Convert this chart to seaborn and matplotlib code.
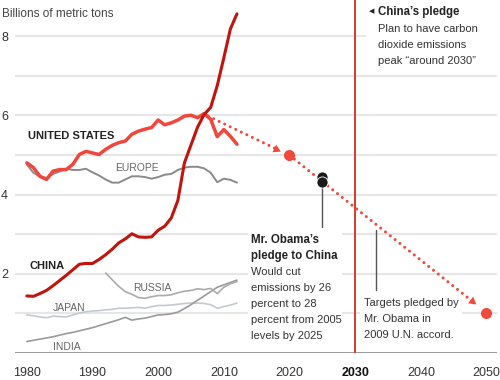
import numpy as np
import pandas as pd
import seaborn as sns
import matplotlib
matplotlib.use("Agg")
import matplotlib.pyplot as plt
from matplotlib.patches import Rectangle

# ---------------- data ----------------
years = list(range(1980, 2013))
us = [4.80, 4.68, 4.46, 4.38, 4.59, 4.63, 4.63, 4.76, 5.01, 5.09, 5.05,
      5.01, 5.14, 5.24, 5.31, 5.35, 5.52, 5.60, 5.65, 5.69, 5.88, 5.76,
      5.81, 5.88, 5.98, 6.00, 5.94, 6.04, 5.90, 5.46, 5.64, 5.47, 5.27]
europe = [4.76, 4.55, 4.45, 4.42, 4.52, 4.58, 4.65, 4.62, 4.62, 4.65, 4.56,
          4.48, 4.38, 4.30, 4.30, 4.38, 4.46, 4.46, 4.44, 4.40, 4.44, 4.50,
          4.52, 4.62, 4.68, 4.70, 4.70, 4.66, 4.55, 4.31, 4.40, 4.37, 4.30]
china = [1.44, 1.43, 1.50, 1.58, 1.70, 1.83, 1.96, 2.10, 2.24, 2.26, 2.26,
         2.36, 2.48, 2.62, 2.78, 2.88, 3.01, 2.93, 2.92, 2.93, 3.10, 3.20,
         3.41, 3.85, 4.80, 5.25, 5.70, 6.02, 6.20, 6.75, 7.45, 8.18, 8.56]
japan = [0.96, 0.94, 0.91, 0.89, 0.93, 0.92, 0.91, 0.96, 1.01, 1.04, 1.06,
         1.07, 1.09, 1.10, 1.13, 1.13, 1.14, 1.15, 1.13, 1.17, 1.20, 1.20,
         1.21, 1.23, 1.25, 1.26, 1.26, 1.25, 1.22, 1.13, 1.17, 1.21, 1.26]
india = [0.29, 0.32, 0.35, 0.38, 0.41, 0.45, 0.49, 0.52, 0.56, 0.60, 0.64,
         0.69, 0.74, 0.79, 0.84, 0.90, 0.83, 0.86, 0.88, 0.92, 0.96, 0.97,
         0.99, 1.03, 1.12, 1.22, 1.33, 1.44, 1.55, 1.66, 1.72, 1.78, 1.84]
russia_years = list(range(1992, 2013))
russia = [2.02, 1.85, 1.68, 1.55, 1.48, 1.40, 1.38, 1.42, 1.45, 1.45, 1.47,
          1.52, 1.56, 1.58, 1.62, 1.60, 1.63, 1.50, 1.66, 1.75, 1.80]

pledge_years = [2007.6, 2020, 2050]
pledge_values = [5.98, 4.99, 1.02]
obama_years = [2025, 2025]
obama_values = [4.44, 4.32]
arrow_years = [2018.0, 2047.8]

china_pledge_year = 2030
x_ticks = [1980, 1990, 2000, 2010, 2020, 2030, 2040, 2050]
y_ticks = [1, 2, 3, 4, 5, 6, 7, 8]
y_tick_labels = ["", "2", "", "4", "", "6", "", "8"]

# ---------------- style ----------------
sns.set_style("white")
plt.rcParams["font.family"] = ["Liberation Sans", "DejaVu Sans"]

W, H = 500, 380
fig = plt.figure(figsize=(5, 3.8), dpi=100)
ax = fig.add_axes([15 / W, 27 / H, 482 / W, 353 / H])
ax.set_xlim(1978.2, 2051.6)
ax.set_ylim(0, 8.91)
for s in ax.spines.values():
    s.set_visible(False)

def fx(px):
    return px / W

def fy(py):
    return 1 - py / H

# gridlines
for v in y_ticks:
    ax.axhline(v, color="#e6e6e6", lw=1.5, zorder=0.5)
ax.axhline(0, color="#8a8a8a", lw=1.2, zorder=0.6)

# white boxes behind annotations
for (x0, y0, x1, y1) in [(366, 0, 500, 70), (248, 230, 342, 346), (360, 296, 462, 346)]:
    ax.add_patch(Rectangle((fx(x0), fy(y1)), fx(x1) - fx(x0), fy(y0) - fy(y1),
                           transform=fig.transFigure, facecolor="white",
                           edgecolor="none", zorder=1, clip_on=False))

# series
df = pd.DataFrame({"year": years, "us": us, "europe": europe, "china": china,
                   "japan": japan, "india": india})
dr = pd.DataFrame({"year": russia_years, "russia": russia})

sns.lineplot(data=df, x="year", y="japan", ax=ax, color="#c3c9cf", lw=1.2, zorder=2)
sns.lineplot(data=df, x="year", y="india", ax=ax, color="#9a9a9a", lw=1.2, zorder=2)
sns.lineplot(data=dr, x="year", y="russia", ax=ax, color="#ababab", lw=1.2, zorder=2)
sns.lineplot(data=df, x="year", y="europe", ax=ax, color="#8a8a8a", lw=1.4, zorder=2)
sns.lineplot(data=df, x="year", y="us", ax=ax, color="#f0463c", lw=2.5, zorder=3)
sns.lineplot(data=df, x="year", y="china", ax=ax, color="#c1140d", lw=2.2, zorder=4)

# 2030 line
ax.axvline(china_pledge_year, color="#d8392e", lw=1.4, zorder=2.5)

# pledge dotted path with arrowheads
red = "#f04a3e"
arrow_vals = list(np.interp(arrow_years, pledge_years, pledge_values))
segs = [((pledge_years[0], pledge_values[0]), (arrow_years[0], arrow_vals[0])),
        ((pledge_years[1], pledge_values[1]), (arrow_years[1], arrow_vals[1]))]
for (a, b) in segs:
    ax.plot([a[0], b[0]], [a[1], b[1]], color=red, lw=2.2,
            linestyle=(0, (0.01, 2.0)), dash_capstyle="round", zorder=5)
fig.canvas.draw()
for (a, b) in segs:
    p0 = ax.transData.transform(a)
    p1 = ax.transData.transform(b)
    ang = np.degrees(np.arctan2(p1[1] - p0[1], p1[0] - p0[0]))
    ax.plot([b[0]], [b[1]], marker=(3, 0, ang - 90), markersize=7,
            color=red, markeredgewidth=0, zorder=6)
ax.plot(pledge_years[1:], pledge_values[1:], linestyle="none", marker="o",
        markersize=8, color=red, markeredgewidth=0, zorder=6)

# Obama 2025 dots and leaders
ax.plot([obama_years[0], obama_years[0]], [obama_values[1], 3.18],
        color="#555555", lw=1.0, zorder=5)
ax.plot(obama_years, obama_values, linestyle="none", marker="o", markersize=8,
        color="#1a1a1a", markeredgecolor="white", markeredgewidth=0.6, zorder=7)
ax.plot([2033.2, 2033.2], [3.10, 1.59], color="#555555", lw=1.0, zorder=5)

# ticks
ax.set_xticks(x_ticks)
ax.set_xticklabels([str(t) for t in x_ticks])
ax.set_yticks(y_ticks)
ax.set_yticklabels(y_tick_labels)
ax.tick_params(axis="x", length=0, pad=10, labelsize=9, labelcolor="#333333")
ax.tick_params(axis="y", length=0, pad=5, labelsize=9, labelcolor="#333333")
for lab in ax.get_xticklabels():
    if lab.get_text() == "2030":
        lab.set_fontweight("bold")
        lab.set_color("#111111")
ax.set_xlabel("")
ax.set_ylabel("")

# texts
fig.text(fx(2), fy(14), "Billions of metric tons", fontsize=8.5, color="#444444",
         ha="left", va="center")

def lab(x, y, s, size=7.5, color="#666666", weight="normal"):
    fig.text(fx(x), fy(y), s, fontsize=size, color=color, ha="left",
             va="center", fontweight=weight, zorder=10)

lab(28, 136, "UNITED STATES", 8, "#222222", "bold")
lab(115, 168, "EUROPE")
lab(30, 266, "CHINA", 8, "#222222", "bold")
lab(133, 288, "RUSSIA")
lab(53, 308, "JAPAN")
lab(53, 347, "INDIA")

fig.text(fx(369), fy(11), "\u25c0", fontsize=5, color="#222222", ha="left",
         va="center", family=["DejaVu Sans"])
lab(378, 12, "China\u2019s pledge", 8.3, "#222222", "bold")
for i, s in enumerate(["Plan to have carbon", "dioxide emissions",
                       "peak \u201caround 2030\u201d"]):
    lab(378, 29 + 16 * i, s, 8, "#333333")

lab(251, 240, "Mr. Obama\u2019s", 8.3, "#222222", "bold")
lab(251, 256, "pledge to China", 8.3, "#222222", "bold")
for i, s in enumerate(["Would cut", "emissions by 26", "percent to 28",
                       "percent from 2005", "levels by 2025"]):
    lab(251, 272 + 16 * i, s, 8, "#333333")

for i, s in enumerate(["Targets pledged by", "Mr. Obama in", "2009 U.N. accord."]):
    lab(364, 303 + 16 * i, s, 8, "#333333")

fig.savefig("out.png", dpi=100)
